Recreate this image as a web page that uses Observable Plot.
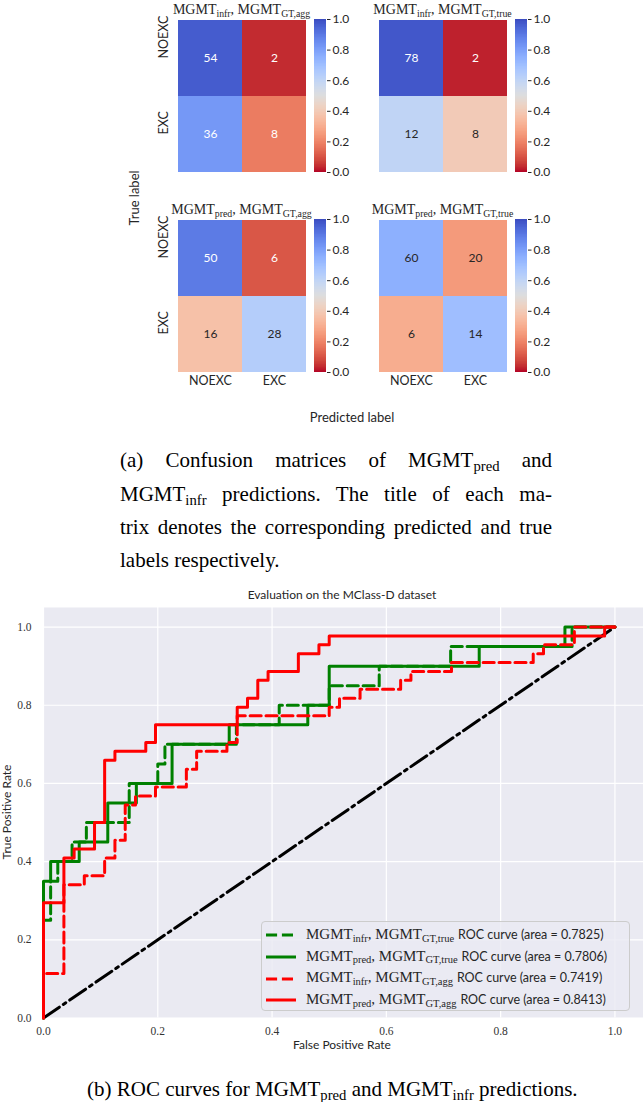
<!DOCTYPE html>
<html><head><meta charset="utf-8">
<script src="https://cdn.jsdelivr.net/npm/d3@7"></script>
<script src="https://cdn.jsdelivr.net/npm/@observablehq/plot@0.6"></script>
<style>
body{margin:0;background:#fff;}
#fig{position:relative;width:643px;height:1102px;overflow:hidden;font-family:Lato,sans-serif;color:#262626;}
#fig > *{position:absolute;}
.serif{font-family:"Liberation Serif","DejaVu Serif",serif;}
.sb{font-size:0.7em;position:relative;top:0.25em;}
.mtitle{width:240px;text-align:center;font-size:14px;line-height:14px;white-space:nowrap;}
.cap{left:120px;width:432px;font-size:21px;line-height:21px;color:#000;text-align:justify;text-align-last:justify;}
.rot{transform:translate(-50%,-50%) rotate(-90deg);white-space:nowrap;}
.ctr{transform:translate(-50%,0);white-space:nowrap;}
#legend{left:261px;top:921px;width:367px;height:88px;border:1px solid #cccccc;border-radius:4px;background:rgba(234,234,242,0.8);}
#legend .row{position:absolute;left:4px;height:20px;line-height:20px;white-space:nowrap;font-size:15px;}
#legend svg{vertical-align:middle;}
</style></head>
<body><div id="fig"></div>
<script>
// ---------- data ----------
const labels = ["NOEXC", "EXC"];
const cmInfrAgg  = [[54, 2], [36, 8]];
const cmInfrTrue = [[78, 2], [12, 8]];
const cmPredAgg  = [[50, 6], [16, 28]];
const cmPredTrue = [[60, 20], [6, 14]];
const colorbarTicks = [0, 0.2, 0.4, 0.6, 0.8, 1.0];
const rocTicks = [0, 0.2, 0.4, 0.6, 0.8, 1.0];

const rocInfrTrue = [[0,0],[0,.25],[.0125,.25],[.0125,.35],[.025,.35],[.025,.40],[.05,.40],[.05,.45],[.075,.45],[.075,.50],[.15,.50],[.15,.60],[.2,.60],[.2,.65],[.2125,.65],[.2125,.70],[.3375,.70],[.3375,.75],[.4125,.75],[.4125,.80],[.5,.80],[.5,.85],[.5875,.85],[.5875,.90],[.7125,.90],[.7125,.95],[.925,.95],[.925,1],[1,1]];
const rocPredTrue = [[0,0],[0,.35],[.0125,.35],[.0125,.40],[.0625,.40],[.0625,.45],[.1125,.45],[.1125,.55],[.1625,.55],[.1625,.60],[.225,.60],[.225,.70],[.325,.70],[.325,.75],[.4625,.75],[.4625,.80],[.5,.80],[.5,.90],[.7625,.90],[.7625,.95],[.9125,.95],[.9125,1],[1,1]];
const rocInfrAgg = [[0,0],[0,.114],[.0357,.114],[.0357,.341],[.0714,.341],[.0714,.364],[.107,.364],[.107,.409],[.125,.409],[.125,.4545],[.143,.4545],[.143,.545],[.161,.545],[.161,.568],[.196,.568],[.196,.591],[.25,.591],[.25,.636],[.268,.636],[.268,.682],[.321,.682],[.321,.705],[.339,.705],[.339,.773],[.5,.773],[.5,.795],[.518,.795],[.518,.818],[.554,.818],[.554,.841],[.625,.841],[.625,.864],[.643,.864],[.643,.886],[.714,.886],[.714,.909],[.857,.909],[.857,.932],[.875,.932],[.875,.955],[.929,.955],[.929,1],[1,1]];
const rocPredAgg = [[0,0],[0,.295],[.0357,.295],[.0357,.409],[.0536,.409],[.0536,.432],[.0893,.432],[.0893,.5],[.107,.5],[.107,.659],[.125,.659],[.125,.682],[.179,.682],[.179,.705],[.196,.705],[.196,.75],[.339,.75],[.339,.795],[.357,.795],[.357,.818],[.375,.818],[.375,.864],[.393,.864],[.393,.886],[.446,.886],[.446,.932],[.482,.932],[.482,.955],[.5,.955],[.5,.977],[.982,.977],[.982,1],[1,1]];
const diagonal = [[0,0],[1,1]];

const legendPred = ["infr", "pred", "infr", "pred"];
const legendGT = ["GT,true", "GT,true", "GT,agg", "GT,agg"];
const legendArea = ["0.7825", "0.7806", "0.7419", "0.8413"];

// ---------- colormap (matplotlib coolwarm, reversed) ----------
const coolwarmStops = [[59,76,192],[68,90,204],[77,104,215],[87,117,225],[98,130,234],[108,142,241],[119,154,247],[130,165,251],[141,176,254],[152,185,255],[163,194,255],[174,201,253],[184,208,249],[194,213,244],[204,217,238],[213,219,230],[221,221,221],[229,216,209],[236,211,197],[241,204,185],[245,196,173],[247,187,160],[247,177,148],[247,166,135],[244,154,123],[241,141,111],[236,127,99],[229,112,88],[222,96,77],[213,80,66],[203,62,56],[192,40,47],[180,4,38]].map(c => `rgb(${c})`);
const coolwarm = d3.piecewise(d3.interpolateRgb, coolwarmStops);
const coolwarmR = t => coolwarm(1 - t);
function darkText(v) {
  const c = d3.rgb(coolwarmR(v));
  const f = x => { x /= 255; return x <= 0.03928 ? x / 12.92 : Math.pow((x + 0.055) / 1.055, 2.4); };
  return 0.2126 * f(c.r) + 0.7152 * f(c.g) + 0.0722 * f(c.b) > 0.408;
}
const colorScale = {type: "linear", domain: [0, 1], interpolate: coolwarmR};
const baseStyle = {fontFamily: "Lato, sans-serif", fontSize: "12px", color: "#262626", overflow: "visible", background: "transparent"};

const fig = document.getElementById("fig");
function place(el, left, top) { el.style.position = "absolute"; el.style.left = left + "px"; el.style.top = top + "px"; fig.appendChild(el); return el; }
function html(str, cls, left, top, extra) { const d = document.createElement("div"); d.className = cls || ""; d.innerHTML = str; if (extra) d.setAttribute("style", extra); return place(d, left, top); }

// ---------- confusion matrices ----------
function matrixPlot(cm, yLab, xLab) {
  const rows = [];
  cm.forEach((row, i) => { const s = d3.sum(row); row.forEach((v, j) => rows.push({t: labels[i], p: labels[j], n: v, f: v / s})); });
  return Plot.plot({
    width: 159, height: 178, marginLeft: 30, marginRight: 0, marginTop: 0, marginBottom: 25,
    style: baseStyle,
    x: {domain: labels, padding: 0, axis: null},
    y: {domain: labels, padding: 0, axis: null},
    color: colorScale,
    marks: [
      Plot.cell(rows, {x: "p", y: "t", fill: "f", inset: 0}),
      Plot.text(rows.filter(d => darkText(d.f)), {x: "p", y: "t", text: d => String(d.n), fill: "#262626", fontSize: 12}),
      Plot.text(rows.filter(d => !darkText(d.f)), {x: "p", y: "t", text: d => String(d.n), fill: "white", fontSize: 12}),
      yLab ? Plot.text(labels, {y: d => d, text: d => d, frameAnchor: "left", dx: -14, rotate: -90, fill: "#262626", fontSize: 12.5}) : null,
      xLab ? Plot.text(labels, {x: d => d, text: d => d, frameAnchor: "bottom", dy: 12, fill: "#262626", fontSize: 12.5}) : null
    ]
  });
}
function colorbarPlot() {
  const step = 0.005;
  const slices = d3.range(0, 1, step);
  return Plot.plot({
    width: 42, height: 153, marginLeft: 0, marginRight: 30, marginTop: 0, marginBottom: 0,
    style: baseStyle,
    y: {domain: [0, 1]},
    color: colorScale,
    marks: [
      Plot.rect(slices, {y1: d => d, y2: d => Math.min(1, d + step * 1.5), fill: d => d + step / 2, shapeRendering: "crispEdges"}),
      Plot.axisY({anchor: "right", ticks: colorbarTicks, tickSize: 3.5, tickPadding: 2.5, tickFormat: d3.format(".1f"), label: null, fontSize: 12})
    ]
  });
}
const mats = [
  [cmInfrAgg, 177, 19, true, false, "infr", "GT,agg"],
  [cmInfrTrue, 378, 19, false, false, "infr", "GT,true"],
  [cmPredAgg, 177, 219, true, true, "pred", "GT,agg"],
  [cmPredTrue, 378, 219, false, true, "pred", "GT,true"]
];
for (const [cm, x, y, yl, xl, a, b] of mats) {
  place(matrixPlot(cm, yl, xl), x - 30, y);
  place(colorbarPlot(), x + 137, y);
  html(`MGMT<span class="sb">${a}</span>, MGMT<span class="sb">${b}</span>`, "serif mtitle", x + 64.5 - 120, y - 15.7);
}
html("True label", "rot", 134, 198, "font-size:13px");
html("Predicted label", "ctr", 352, 409, "font-size:13px");

// ---------- caption (a) ----------
html(`(a) Confusion matrices of MGMT<span class="sb">pred</span> and`, "serif cap", 120, 450.4);
html(`MGMT<span class="sb">infr</span> predictions. The title of each ma-`, "serif cap", 120, 484.4);
html(`trix denotes the corresponding predicted and true`, "serif cap", 120, 517.4);
html(`labels respectively.`, "serif cap", 120, 550.4, "text-align-last:left");

// ---------- ROC ----------
const roc = Plot.plot({
  width: 643, height: 480, marginTop: 27, marginBottom: 42.5, marginLeft: 43, marginRight: 0,
  style: {...baseStyle, fontFamily: "'Liberation Serif', serif", fontSize: "11.5px", color: "#333"},
  x: {domain: [0, 1.05]},
  y: {domain: [0, 1.05]},
  marks: [
    Plot.frame({fill: "#eaeaf2", stroke: "none"}),
    Plot.gridX({ticks: rocTicks, stroke: "white", strokeOpacity: 1, strokeWidth: 1.2}),
    Plot.gridY({ticks: rocTicks, stroke: "white", strokeOpacity: 1, strokeWidth: 1.2}),
    Plot.axisX({ticks: rocTicks, tickSize: 0, tickPadding: 9, tickFormat: d3.format(".1f"), label: null}),
    Plot.axisY({ticks: rocTicks, tickSize: 0, tickPadding: 12, tickFormat: d3.format(".1f"), label: null}),
    Plot.line(diagonal, {x: d => d[0], y: d => d[1], stroke: "black", strokeWidth: 3, strokeDasharray: "19.2,4.8,3,4.8"}),
    Plot.line(rocInfrTrue, {x: d => d[0], y: d => d[1], stroke: "green", strokeWidth: 3, strokeDasharray: "11.1,4.8"}),
    Plot.line(rocPredTrue, {x: d => d[0], y: d => d[1], stroke: "green", strokeWidth: 3, strokeLinejoin: "round"}),
    Plot.line(rocInfrAgg, {x: d => d[0], y: d => d[1], stroke: "red", strokeWidth: 3, strokeDasharray: "11.1,4.8"}),
    Plot.line(rocPredAgg, {x: d => d[0], y: d => d[1], stroke: "red", strokeWidth: 3, strokeLinejoin: "round"})
  ]
});
place(roc, 0, 580);
html("Evaluation on the MClass-D dataset", "ctr", 342, 589.4, "font-size:12px;line-height:12px");
html("False Positive Rate", "ctr", 342, 1039.4, "font-size:12px;line-height:12px");
html("True Positive Rate", "rot", 7, 812, "font-size:12px;line-height:12px");

// legend
const leg = html("", "", 261, 921);
leg.id = "legend";
const legStyles = [["green", "11.1,4.8"], ["green", null], ["red", "11.1,4.8"], ["red", null]];
legendPred.forEach((p, i) => {
  const r = document.createElement("div");
  r.className = "row";
  r.style.top = (1 + i * 21.7) + "px";
  const [c, dash] = legStyles[i];
  r.innerHTML = `<svg width="40" height="10"><line x1="0" x2="30" y1="5" y2="5" stroke="${c}" stroke-width="3" ${dash ? `stroke-dasharray="${dash}"` : ""}/></svg><span class="serif">MGMT<span class="sb">${p}</span>, MGMT<span class="sb">${legendGT[i]}</span></span> <span style="font-family:Lato;font-size:12.5px">ROC curve (area = ${legendArea[i]})</span>`;
  leg.appendChild(r);
});

// ---------- caption (b) ----------
html(`(b) ROC curves for MGMT<span class="sb">pred</span> and MGMT<span class="sb">infr</span> predictions.`, "serif", 87, 1079, "font-size:21px;line-height:21px;color:#000;white-space:nowrap");
</script></body></html>
